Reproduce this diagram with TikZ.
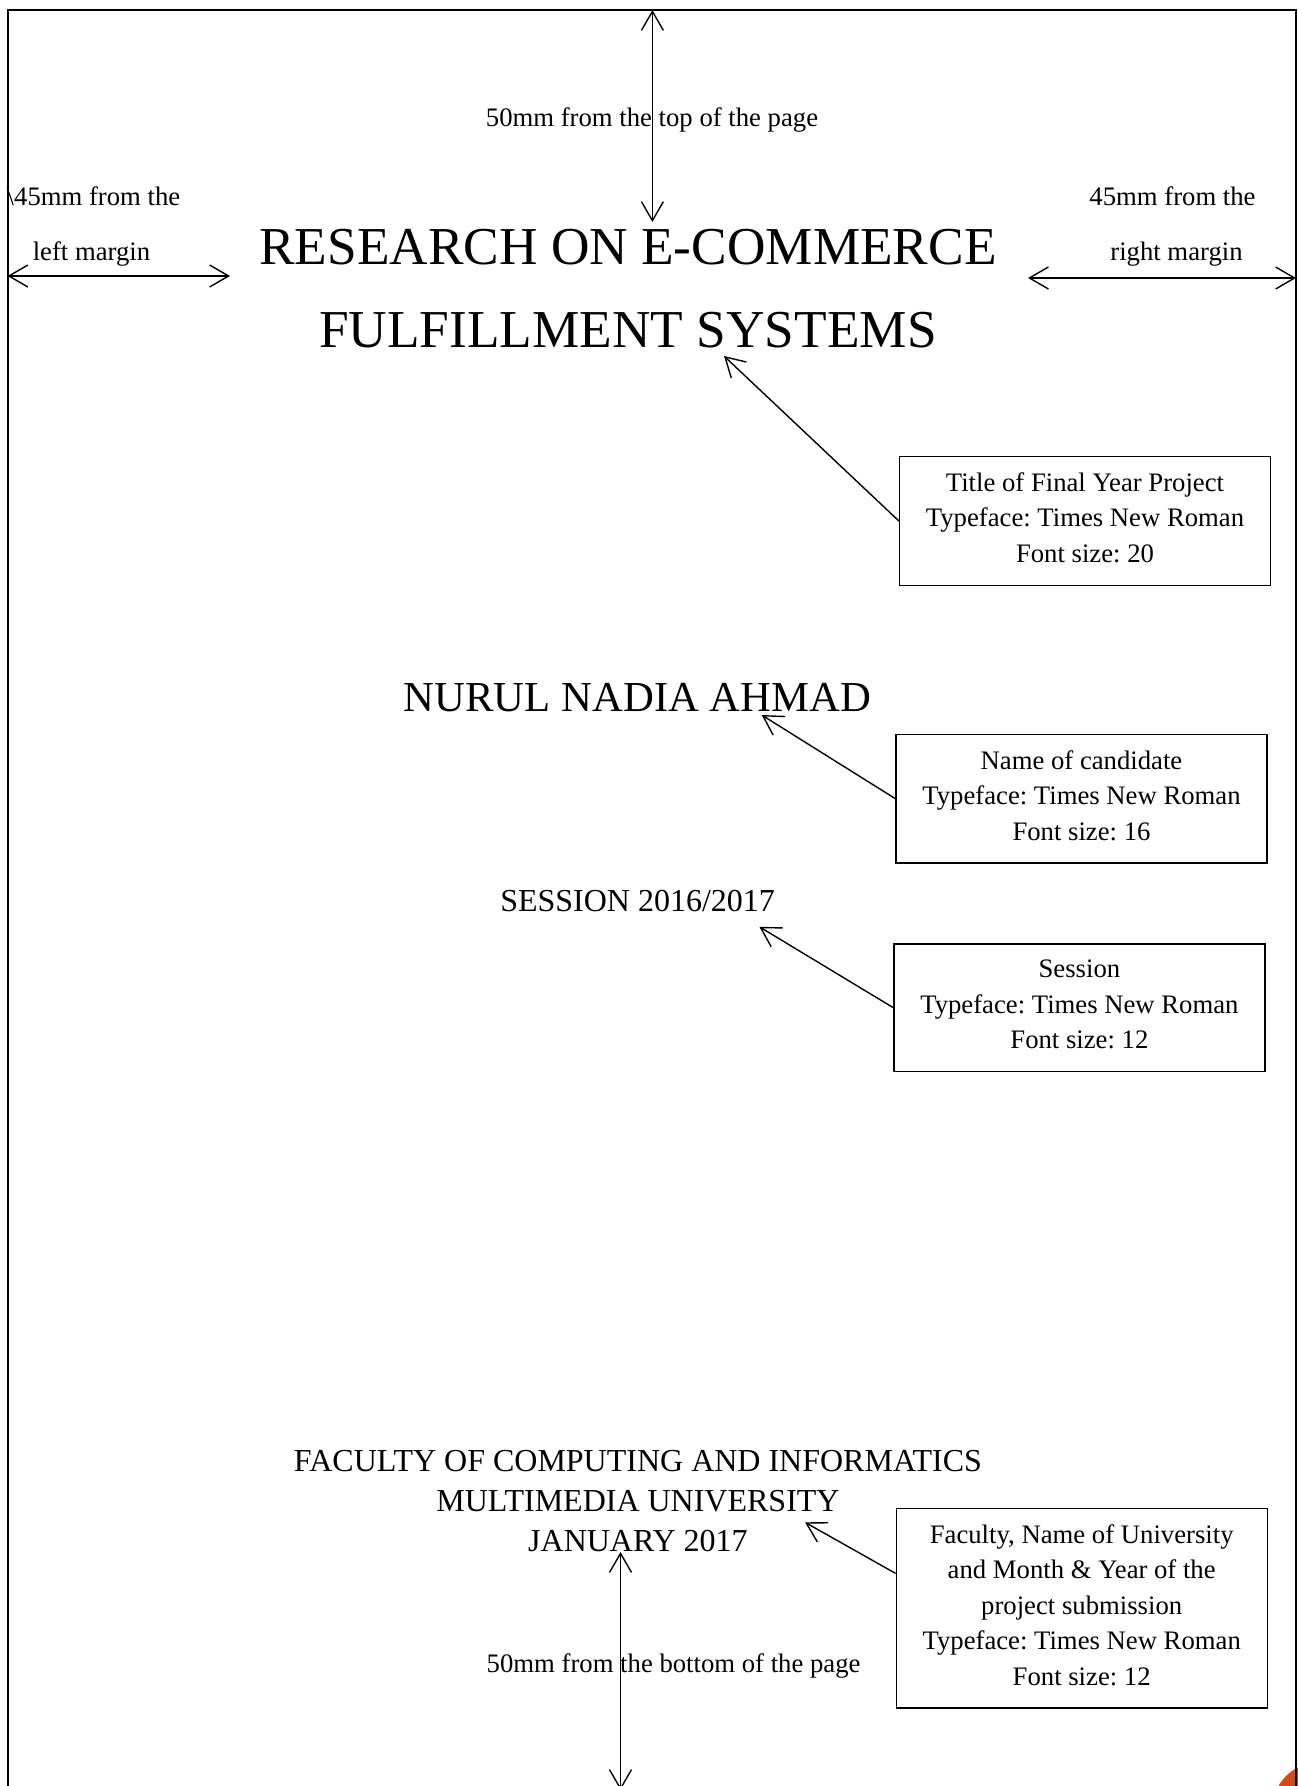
\documentclass[tikz,border=0pt]{standalone}
\usepackage{fontspec}
\setmainfont{Liberation Serif}
\usetikzlibrary{arrows.meta,calc}
\definecolor{accent}{RGB}{209,74,28}
\frenchspacing

\begin{document}
\begin{tikzpicture}[x=1pt,y=-1pt,
  frame/.style={line width=2pt},
  barb/.tip={Straight Barb[length=19pt,width=22pt]},
  dim/.style={line width=1.4pt, barb-barb},
  pointer/.style={line width=1.4pt, -barb},
  notebox/.style={draw, line width=1.2pt, align=center, inner sep=0pt, text depth=7pt,
    minimum width=371pt, font=\fontsize{26.7}{35.5}\selectfont},
  remark/.style={inner sep=0pt, anchor=base, font=\fontsize{26.7}{32}\selectfont},
  titletext/.style={inner sep=0pt, anchor=base, font=\fontsize{53.3}{64}\selectfont},
  nametext/.style={inner sep=0pt, anchor=base, font=\fontsize{42.7}{52}\selectfont},
  plaintext/.style={inner sep=0pt, anchor=base, font=\fontsize{32}{40}\selectfont},
]
\useasboundingbox (0,0) rectangle (1298,1786);

% page frame, corner mark and the lower dimension line (cut at the edge)
\begin{scope}
  \clip (0,0) rectangle (1298,1786);
  \fill[accent] (1320,1810) circle (48pt);
  \draw[frame] (7.5,1800) -- (7.5,10) -- (1296,10) -- (1296,1800);
  \coordinate (botA) at (620.5,1552);
  \coordinate (botB) at (620.5,1790);
  \draw[dim] (botA) -- (botB);
\end{scope}

% title
\node[titletext] (t1) at (628,264) {RESEARCH ON E-COMMERCE};
\node[titletext] (t2) at (628,347) {FULFILLMENT SYSTEMS};

% candidate, session, faculty
\node[nametext] (cand) at (637.5,711.6) {NURUL NADIA AHMAD};
\node[plaintext] (sess) at (637.6,911) {SESSION 2016/2017};
\node[plaintext] (fac1) at (638,1471) {FACULTY OF COMPUTING AND INFORMATICS};
\node[plaintext] (fac2) at (638,1511) {MULTIMEDIA UNIVERSITY};
\node[plaintext] (fac3) at (638,1551) {JANUARY 2017};

% margin remarks
\node[remark] (toplbl) at (652,126.4) {50mm from the top of the page};
\node[remark] (botlbl) at (673.6,1672.6) {50mm from the bottom of the page};
\node[remark] (lm1) at (93.5,205) {\textbackslash 45mm from the};
\node[remark] (lm2) at (91.5,260) {left margin};
\node[remark] (rm1) at (1172.5,205) {45mm from the};
\node[remark] (rm2) at (1176.5,260) {right margin};

% dimension arrows
\coordinate (topA) at (652.4,10);
\coordinate (topB) at (652.4,222);
\draw[dim] (topA) -- (topB);
\coordinate (ltA) at (7.5,276);
\coordinate (ltB) at (230,276);
\draw[dim] (ltA) -- (ltB);
\coordinate (rtA) at (1028,278);
\coordinate (rtB) at (1296,278);
\draw[dim] (rtA) -- (rtB);

% annotation boxes
\node[notebox, minimum height=128.6pt] (titlebox) at (1085,521)
  {Title of Final Year Project\\Typeface: Times New Roman\\Font size: 20};
\node[notebox, minimum height=128.6pt] (namebox) at (1081.5,798.7)
  {Name of candidate\\Typeface: Times New Roman\\Font size: 16};
\node[notebox, minimum height=127.4pt] (sessbox) at (1079.4,1007.7)
  {Session\\Typeface: Times New Roman\\Font size: 12};
\node[notebox, minimum height=199.4pt] (facbox) at (1081.7,1608.3)
  {Faculty, Name of University\\and Month \& Year of the\\project submission\\Typeface: Times New Roman\\Font size: 12};

% pointers from the boxes to the text they describe
\coordinate (titletip) at (724,356);
\coordinate (nametip) at (761.7,715);
\coordinate (sesstip) at (759.4,926.8);
\coordinate (factip) at (805,1522.3);
\coordinate (facin) at ($(facbox.north west)!0.326!(facbox.south west)$);
\draw[pointer] (titlebox.west) -- (titletip);
\draw[pointer] (namebox.west) -- (nametip);
\draw[pointer] (sessbox.west) -- (sesstip);
\draw[pointer] (facin) -- (factip);
\end{tikzpicture}
\end{document}
